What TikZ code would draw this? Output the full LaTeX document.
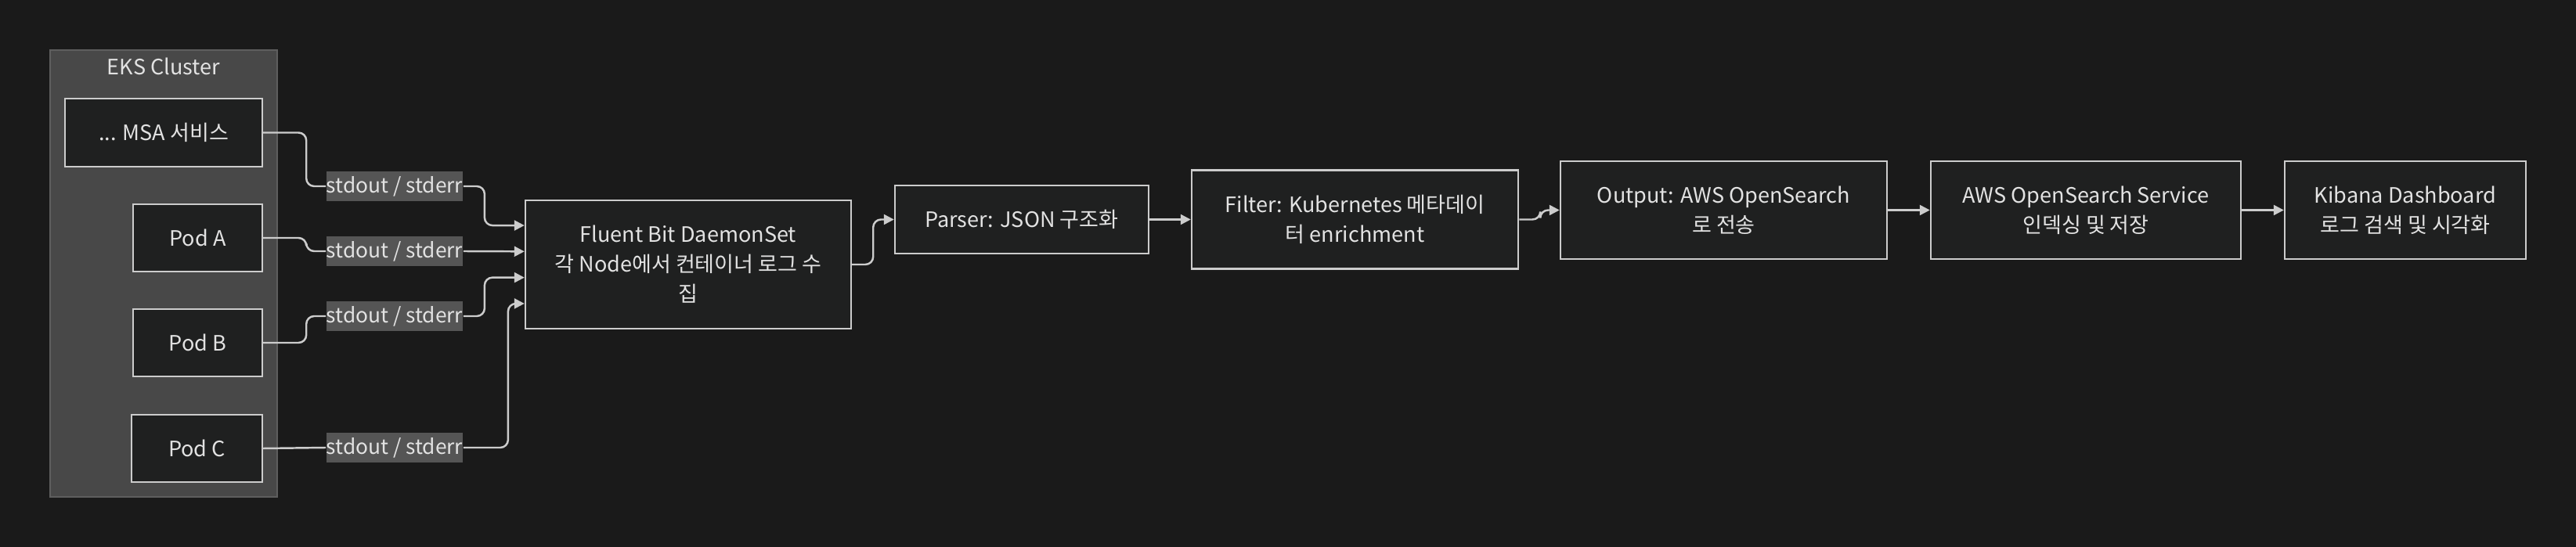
\documentclass[tikz,border=0pt]{standalone}
\usepackage{fontspec}
\setmainfont{Noto Sans CJK KR}
\usetikzlibrary{calc, arrows.meta}

\definecolor{bgcol}{HTML}{1A1A1A}
\definecolor{boxcol}{HTML}{1F2020}
\definecolor{clustercol}{HTML}{484848}
\definecolor{clusterline}{HTML}{5E5E5E}
\definecolor{labelcol}{HTML}{555555}
\definecolor{linecol}{HTML}{CCCCCC}
\definecolor{textcol}{HTML}{E2E2E2}

\tikzset{
	stage/.style = {draw = linecol, fill = boxcol, line width = 0.7pt, text = textcol, align = center, inner sep = 0pt, font = \fontsize{7.7}{10.8}\selectfont},
	loglabel/.style = {fill = labelcol, text = textcol, inner sep = 0pt, minimum width = 1.64cm, minimum height = 0.38cm, font = \fontsize{7.5}{10.8}\selectfont},
	link/.style = {draw = linecol, line width = 0.7pt, rounded corners = 0.1cm, -{Triangle[length = 0.13cm, width = 0.13cm]}},
	plain/.style = {draw = linecol, line width = 0.7pt, rounded corners = 0.1cm}
}

\begin{document}
\begin{tikzpicture}
			\fill[bgcol] (0,0) rectangle (32.9,-6.99);
			\useasboundingbox (0,0) rectangle (32.9,-6.99);
			
			% cluster with pods
			\node [draw = clusterline, fill = clustercol, line width = 0.7pt, minimum width = 2.9cm, minimum height = 5.71cm] (cluster) at (2.09,-3.495) {};
			\node [text = textcol, font = \fontsize{7.7}{10.8}\selectfont] (title) at (2.09,-0.85) {EKS Cluster};
			
			\node [stage, minimum width = 2.52cm, minimum height = 0.87cm] (msa) at (2.09,-1.695) {... MSA 서비스};
			\node [stage, minimum width = 1.65cm, minimum height = 0.86cm] (podA) at (2.525,-3.04) {Pod A};
			\node [stage, minimum width = 1.65cm, minimum height = 0.86cm] (podB) at (2.525,-4.38) {Pod B};
			\node [stage, minimum width = 1.67cm, minimum height = 0.86cm] (podC) at (2.515,-5.73) {Pod C};
			
			% pipeline
			\node [stage, minimum width = 4.16cm, minimum height = 1.64cm] (fluent) at (8.79,-3.38) {Fluent Bit DaemonSet\\각 Node에서 컨테이너 로그 수\\집};
			\node [stage, minimum width = 3.24cm, minimum height = 0.87cm] (parser) at (13.05,-2.805) {Parser: JSON 구조화};
			\node [stage, minimum width = 4.17cm, minimum height = 1.26cm] (filter) at (17.305,-2.805) {Filter: Kubernetes 메타데이\\터 enrichment};
			\node [stage, minimum width = 4.17cm, minimum height = 1.25cm] (output) at (22.015,-2.685) {Output: AWS OpenSearch\\로 전송};
			\node [stage, minimum width = 3.96cm, minimum height = 1.25cm] (service) at (26.64,-2.685) {AWS OpenSearch Service\\인덱싱 및 저장};
			\node [stage, minimum width = 3.08cm, minimum height = 1.25cm] (kibana) at (30.72,-2.685) {Kibana Dashboard\\로그 검색 및 시각화};
			
			\coordinate (in1) at ($(fluent.north west)!0.2!(fluent.south west)$);
			\coordinate (in2) at ($(fluent.north west)!0.4!(fluent.south west)$);
			\coordinate (in3) at ($(fluent.north west)!0.6!(fluent.south west)$);
			\coordinate (in4) at ($(fluent.north west)!0.8!(fluent.south west)$);
			
			\node [loglabel] (log1) at (5.04,-2.38) {stdout / stderr};
			\node [loglabel] (log2) at (5.04,-3.21) {stdout / stderr};
			\node [loglabel] (log3) at (5.04,-4.04) {stdout / stderr};
			\node [loglabel] (log4) at (5.04,-5.72) {stdout / stderr};
			
			\draw [plain] (msa.east) -- ++(0.55,0) |- (log1.west);
			\draw [plain] (podA.east) -- ++(0.55,0) |- (log2.west);
			\draw [plain] (podB.east) -- ++(0.55,0) |- (log3.west);
			\draw [plain] (podC.east) -- (log4.west);
			
			\draw [link] (log1.east) -- ++(0.27,0) |- (in1);
			\draw [link] (log2.east) -- (in2);
			\draw [link] (log3.east) -- ++(0.27,0) |- (in3);
			\draw [link] (log4.east) -- ++(0.57,0) |- (in4);
			
			\draw [link] (fluent.east) -- ++(0.27,0) |- (parser.west);
			\draw [link] (parser) -- (filter);
			\draw [link] (filter.east) -- ++(0.27,0) |- (output.west);
			\draw [link] (output) -- (service);
			\draw [link] (service) -- (kibana);
		\end{tikzpicture}
\end{document}
